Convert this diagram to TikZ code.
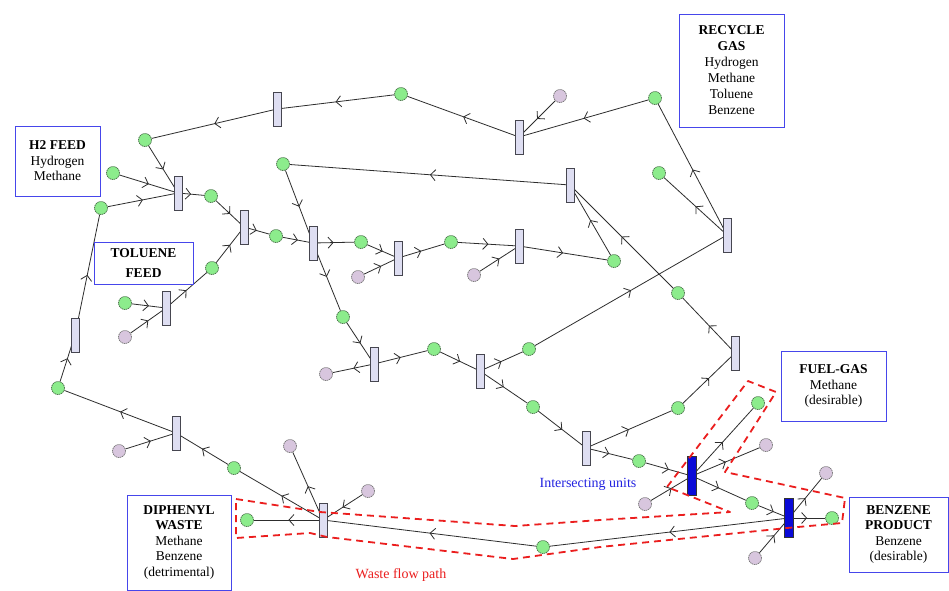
\documentclass[tikz,border=0pt]{standalone}
\usepackage{fontspec}
\setmainfont{Liberation Serif}
\usetikzlibrary{arrows.meta,decorations.markings}
\pgfdeclarelayer{paper}
\pgfdeclarelayer{background}
\pgfsetlayers{paper,background,main}
\definecolor{barfill}{RGB}{222,222,242}
\definecolor{barline}{RGB}{70,70,80}
\definecolor{hotblue}{RGB}{10,10,215}
\definecolor{placegreen}{RGB}{140,236,140}
\definecolor{placepurple}{RGB}{216,198,222}
\definecolor{placeline}{RGB}{70,110,70}
\definecolor{arcgray}{RGB}{45,45,45}
\definecolor{boxblue}{RGB}{70,70,235}
\definecolor{wastered}{RGB}{235,30,30}
\definecolor{notblue}{RGB}{35,35,225}
\begin{document}
\begin{tikzpicture}[x=1pt,y=-1pt,
  bar/.style={rectangle,draw=barline,fill=barfill,line width=0.8pt,minimum width=8pt,minimum height=34pt,inner sep=0pt},
  hot/.style={bar,fill=hotblue,draw=black!80,minimum width=9pt,minimum height=39pt},
  gp/.style={circle,fill=placegreen,draw=placeline,dash pattern=on 1.4pt off 0.7pt,line width=0.7pt,minimum size=13pt,inner sep=0pt},
  pp/.style={gp,fill=placepurple,draw=black!55},
  arc/.style={draw=arcgray,line width=0.8pt,postaction={decorate},
    decoration={markings,mark=at position 0.5 with {\arrow{Straight Barb[length=5pt,width=11pt]}}}},
  infobox/.style={draw=boxblue,line width=1pt,align=center,inner sep=1pt,font=\fontsize{13.5}{15.5}\selectfont},
  wastepath/.style={draw=wastered,line width=1.8pt,dash pattern=on 7pt off 5pt,line join=round},
  note/.style={font=\fontsize{14}{16}\selectfont,inner sep=0pt}]
\useasboundingbox (0,0) rectangle (949,590);
\begin{pgfonlayer}{paper}
\fill[white] (0,0) rectangle (949,590);
\end{pgfonlayer}

% transitions
\node[bar] (t1) at (277,109) {};
\node[bar] (t2) at (519,137) {};
\node[bar] (t3) at (178,193) {};
\node[bar] (t4) at (244,227) {};
\node[bar] (t5) at (313,243) {};
\node[bar] (t6) at (398,258) {};
\node[bar] (t7) at (519,246) {};
\node[bar] (t8) at (570,185) {};
\node[bar] (t9) at (727,235) {};
\node[bar] (t10) at (166,308) {};
\node[bar] (t11) at (75,335) {};
\node[bar] (t12) at (374,364) {};
\node[bar] (t13) at (480,371) {};
\node[bar] (t14) at (735,353) {};
\node[bar] (t15) at (176,433) {};
\node[bar] (t16) at (586,448) {};
\node[hot] (t17) at (692,476) {};
\node[hot] (t18) at (789,518) {};
\node[bar] (t19) at (323,520) {};

% green places
\node[gp] (g1) at (401,94) {};
\node[gp] (g2) at (655,98) {};
\node[gp] (g3) at (145,140) {};
\node[gp] (g4) at (113,173) {};
\node[gp] (g5) at (211,196) {};
\node[gp] (g6) at (101,208) {};
\node[gp] (g7) at (283,164) {};
\node[gp] (g8) at (276,236) {};
\node[gp] (g9) at (361,242) {};
\node[gp] (g10) at (451,242) {};
\node[gp] (g11) at (659,173) {};
\node[gp] (g12) at (614,261) {};
\node[gp] (g13) at (212,268) {};
\node[gp] (g14) at (125,303) {};
\node[gp] (g15) at (343,317) {};
\node[gp] (g16) at (678,293) {};
\node[gp] (g17) at (434,349) {};
\node[gp] (g18) at (529,349) {};
\node[gp] (g19) at (58,388) {};
\node[gp] (g20) at (678,408) {};
\node[gp] (g21) at (533,407) {};
\node[gp] (g22) at (758,403) {};
\node[gp] (g23) at (234,468) {};
\node[gp] (g24) at (639,461) {};
\node[gp] (g25) at (752,503) {};
\node[gp] (g26) at (247,520) {};
\node[gp] (g27) at (543,547) {};
\node[gp] (g28) at (832,518) {};

% purple places
\node[pp] (p1) at (560,96) {};
\node[pp] (p2) at (358,277) {};
\node[pp] (p3) at (474,275) {};
\node[pp] (p4) at (125,337) {};
\node[pp] (p5) at (326,374) {};
\node[pp] (p6) at (119,451) {};
\node[pp] (p7) at (290,446) {};
\node[pp] (p8) at (368,491) {};
\node[pp] (p9) at (766,445) {};
\node[pp] (p10) at (826,473) {};
\node[pp] (p11) at (645,504) {};
\node[pp] (p12) at (755,558) {};

% arcs (behind the bars, meeting at bar centres)
\begin{pgfonlayer}{background}
\draw[arc] (t2.center) -- (g1);
\draw[arc] (g1) -- (t1.center);
\draw[arc] (t1.center) -- (g3);
\draw[arc] (g2) -- (t2.center);
\draw[arc] (p1) -- (t2.center);
\draw[arc] (t9.center) -- (g2);
\draw[arc] (t9.center) -- (g11);
\draw[arc] (g3) -- (t3.center);
\draw[arc] (g4) -- (t3.center);
\draw[arc] (g6) -- (t3.center);
\draw[arc] (t3.center) -- (g5);
\draw[arc] (g5) -- (t4.center);
\draw[arc] (g13) -- (t4.center);
\draw[arc] (t4.center) -- (g8);
\draw[arc] (g8) -- (t5.center);
\draw[arc] (g7) -- (t5.center);
\draw[arc] (t5.center) -- (g9);
\draw[arc] (g9) -- (t6.center);
\draw[arc] (p2) -- (t6.center);
\draw[arc] (t6.center) -- (g10);
\draw[arc] (g10) -- (t7.center);
\draw[arc] (p3) -- (t7.center);
\draw[arc] (t7.center) -- (g12);
\draw[arc] (g12) -- (t8.center);
\draw[arc] (t8.center) -- (g7);
\draw[arc] (g16) -- (t8.center);
\draw[arc] (t14.center) -- (g16);
\draw[arc] (g20) -- (t14.center);
\draw[arc] (t16.center) -- (g20);
\draw[arc] (t5.center) -- (g15);
\draw[arc] (g15) -- (t12.center);
\draw[arc] (t12.center) -- (p5);
\draw[arc] (t12.center) -- (g17);
\draw[arc] (g17) -- (t13.center);
\draw[arc] (t13.center) -- (g18);
\draw[arc] (g18) -- (t9.center);
\draw[arc] (t13.center) -- (g21);
\draw[arc] (g21) -- (t16.center);
\draw[arc] (t16.center) -- (g24);
\draw[arc] (g24) -- (t17.center);
\draw[arc] (p11) -- (t17.center);
\draw[arc] (t17.center) -- (g22);
\draw[arc] (t17.center) -- (p9);
\draw[arc] (t17.center) -- (g25);
\draw[arc] (g25) -- (t18.center);
\draw[arc] (p12) -- (t18.center);
\draw[arc] (t18.center) -- (p10);
\draw[arc] (t18.center) -- (g28);
\draw[arc] (t18.center) -- (g27);
\draw[arc] (g27) -- (t19.center);
\draw[arc] (t19.center) -- (g26);
\draw[arc] (t19.center) -- (p7);
\draw[arc] (p8) -- (t19.center);
\draw[arc] (t19.center) -- (g23);
\draw[arc] (g23) -- (t15.center);
\draw[arc] (p6) -- (t15.center);
\draw[arc] (t15.center) -- (g19);
\draw[arc] (g19) -- (t11.center);
\draw[arc] (t11.center) -- (g6);
\draw[arc] (t10.center) -- (g13);
\draw[arc] (g14) -- (t10.center);
\draw[arc] (p4) -- (t10.center);
\end{pgfonlayer}

% info boxes
\node[infobox,minimum width=85pt,minimum height=70pt] (h2feed) at (57.5,161) {\textbf{H2 FEED}\\Hydrogen\\Methane};
\node[infobox,minimum width=99pt,minimum height=42pt,font=\fontsize{13.5}{20}\selectfont] (tolfeed) at (143.5,263) {\textbf{TOLUENE}\\\textbf{FEED}};
\node[infobox,minimum width=105pt,minimum height=113pt,font=\fontsize{13.5}{16}\selectfont] (recycle) at (731.5,70.5) {\textbf{RECYCLE}\\\textbf{GAS}\\Hydrogen\\Methane\\Toluene\\Benzene};
\node[infobox,minimum width=105pt,minimum height=70pt] (fuelgas) at (833.5,386) {\textbf{FUEL-GAS}\\Methane\\(desirable)};
\node[infobox,minimum width=99pt,minimum height=75pt] (benzene) at (898.5,534.5) {\textbf{BENZENE}\\\textbf{PRODUCT}\\Benzene\\(desirable)};
\node[infobox,minimum width=104pt,minimum height=95pt] (diphenyl) at (179,542.5) {\textbf{DIPHENYL}\\\textbf{WASTE}\\Methane\\Benzene\\(detrimental)};

% waste flow path outline
\draw[wastepath] (236,499) -- (320,512) -- (515,526) -- (600,520) -- (730,512)
  -- (667,487) -- (748,381) -- (776,392) -- (725,472) -- (845,498) -- (842,523)
  -- (787,528) -- (600,547) -- (513,559) -- (327,537) -- (310,533) -- (236,538) -- cycle;

% notes
\node[note,text=notblue] (intersect) at (588,484) {Intersecting units};
\node[note,text=wastered] (wastelabel) at (401,575) {Waste flow path};
\end{tikzpicture}
\end{document}
